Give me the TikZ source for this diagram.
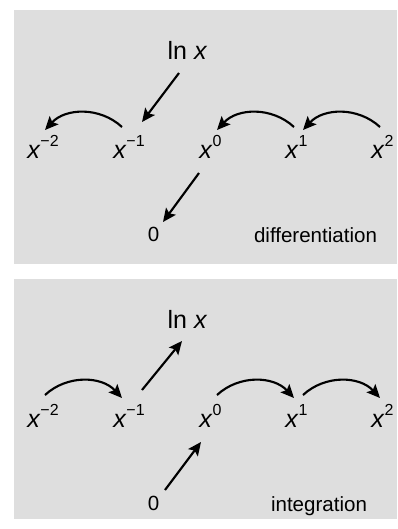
\documentclass[tikz,border=0pt]{standalone}
\usepackage{fontspec}
\setmainfont{Liberation Sans}
\usetikzlibrary{arrows.meta,calc}

\definecolor{painel}{RGB}{222,222,222}

% x com expoente
\newcommand{\xpow}[1]{\textit{x}\raisebox{8.5pt}{\fontsize{12}{12}\selectfont #1}}

\begin{document}
\begin{tikzpicture}[
  x=0.75pt, y=-0.75pt,
  every node/.style={inner sep=0pt},
  pot/.style={anchor=base west, font=\fontsize{18.75}{20}\selectfont},
  lnx/.style={anchor=base, font=\fontsize{18.75}{20}\selectfont},
  lbl/.style={anchor=base, font=\fontsize{15.4}{17}\selectfont},
  arr/.style={-{Stealth[length=10pt,width=9pt,inset=2pt]}, line width=1.6pt}
]

% Parâmetros gerais
\def\rowA{158}   % linha de base, derivação
\def\rowB{427}   % linha de base, integração

\useasboundingbox (0,0) rectangle (397,529);

% ==========================================================
% Derivação
% ==========================================================
\fill[painel] (14,10) rectangle (397,264);

\foreach \n/\e/\px in {m2/−2/27, m1/−1/113, 0/0/199, 1/1/285, 2/2/371}{
  \node[pot] (d\n) at (\px,\rowA) {\xpow{\e}};
}

\node[lnx] (dln) at (187.5,59) {ln \textit{x}};
\node[lbl] (dzero) at (153.5,241) {0};
\node[lbl] (dlab) at (315.5,242) {differentiation};

\draw[arr] ($(dln.base)+(-8.5,14)$) -- ($(dm1.base west)+(29,-36)$);
\draw[arr] ($(d0.base west)+(0,15)$) -- ($(dzero.base)+(9.5,-19)$);

\draw[arr] ($(dm1.base west)+(9,-31)$) to[bend right=45] ($(dm2.base west)+(18,-28)$);
\draw[arr] ($(d1.base west)+(9,-31)$) to[bend right=45] ($(d0.base west)+(18,-28)$);
\draw[arr] ($(d2.base west)+(9,-31)$) to[bend right=45] ($(d1.base west)+(18,-28)$);

% ==========================================================
% Integração
% ==========================================================
\fill[painel] (14,279) rectangle (397,519);

\foreach \n/\e/\px in {m2/−2/27, m1/−1/113, 0/0/199, 1/1/285, 2/2/371}{
  \node[pot] (i\n) at (\px,\rowB) {\xpow{\e}};
}

\node[lnx] (iln) at (187.5,328) {ln \textit{x}};
\node[lbl] (izero) at (153.5,510) {0};
\node[lbl] (ilab) at (319,511) {integration};

\draw[arr] ($(im1.base west)+(29,-37)$) -- ($(iln.base)+(-5.5,13)$);
\draw[arr] ($(izero.base)+(11.5,-20)$) -- ($(i0.base west)+(2,15)$);

\draw[arr] ($(im2.base west)+(18,-32)$) to[bend left=45] ($(im1.base west)+(9,-29)$);
\draw[arr] ($(i0.base west)+(18,-32)$) to[bend left=45] ($(i1.base west)+(9,-29)$);
\draw[arr] ($(i1.base west)+(18,-32)$) to[bend left=45] ($(i2.base west)+(9,-29)$);

\end{tikzpicture}
\end{document}
